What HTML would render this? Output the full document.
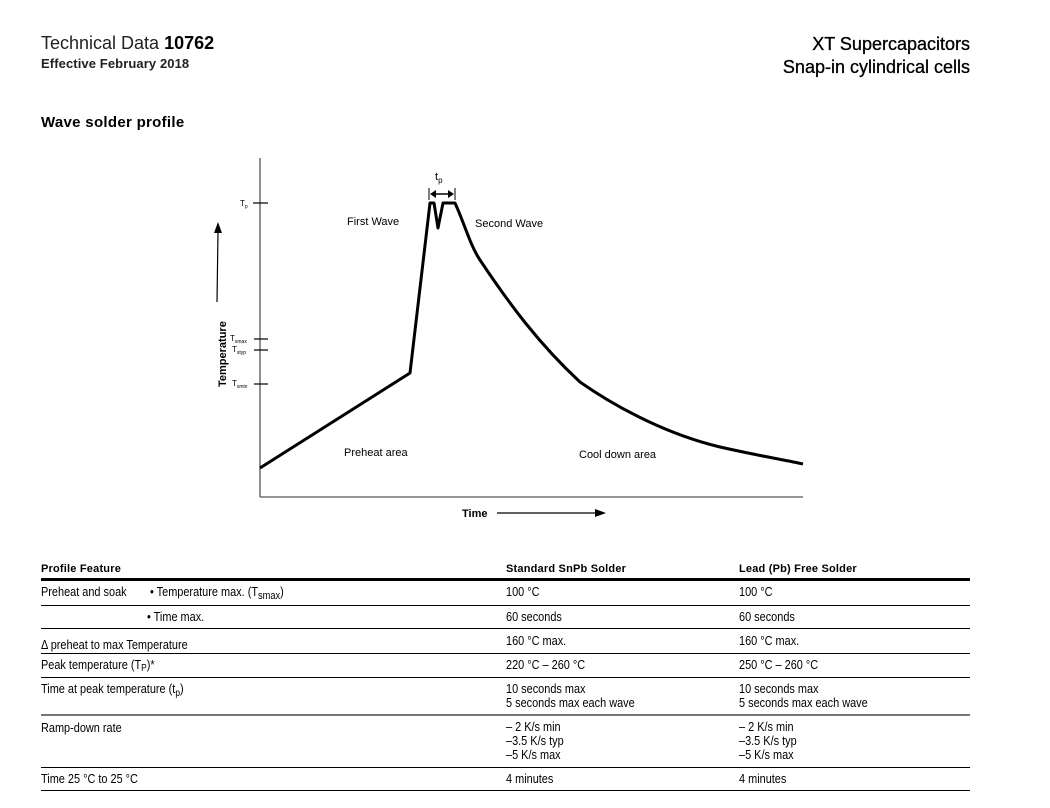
<!DOCTYPE html>
<html><head><meta charset="utf-8"><style>
body{margin:0;background:#fff;width:1050px;height:808px;position:relative;overflow:hidden;font-family:"Liberation Sans",sans-serif;color:#000}
.a{position:absolute;white-space:nowrap}
.n{position:absolute;white-space:nowrap;font-size:13px;transform:scaleX(0.84);transform-origin:0 0;line-height:14px}
.b{position:absolute;white-space:nowrap;font-size:11px;font-weight:bold;letter-spacing:0.2px}
.hl{position:absolute;left:41px;width:929px;height:1px;background:#000}
</style></head><body>
<div class="a" style="left:41px;top:33px;font-size:18px;color:#222">Technical Data <b style="color:#000">10762</b></div>
<div class="a" style="left:41px;top:56px;font-size:13px;font-weight:bold;letter-spacing:0.1px;color:#222">Effective February 2018</div>
<div class="a" style="right:80px;top:34px;font-size:18px;text-align:right;-webkit-text-stroke:0.3px #000">XT Supercapacitors</div>
<div class="a" style="right:80px;top:57px;font-size:18px;text-align:right;-webkit-text-stroke:0.3px #000">Snap-in cylindrical cells</div>
<div class="a" style="left:41px;top:114px;font-size:15px;font-weight:bold;letter-spacing:0.3px">Wave solder profile</div>

<svg class="a" style="left:0;top:0" width="1050" height="550" font-family="Liberation Sans, sans-serif">
<line x1="260" y1="158" x2="260" y2="497" stroke="#555" stroke-width="1.3"/>
<line x1="260" y1="497" x2="803" y2="497" stroke="#555" stroke-width="1.3"/>
<g stroke="#000" stroke-width="1.2">
<line x1="253" y1="203" x2="268" y2="203"/>
<line x1="254" y1="339" x2="268" y2="339"/>
<line x1="254" y1="350" x2="268" y2="350"/>
<line x1="254" y1="384" x2="268" y2="384"/>
</g>
<g font-size="8">
<text x="240" y="206">T<tspan font-size="5" dy="2">p</tspan></text>
<text x="230" y="341">T<tspan font-size="5" dy="2">smax</tspan></text>
<text x="232" y="352">T<tspan font-size="5" dy="2">styp</tspan></text>
<text x="232" y="386">T<tspan font-size="5" dy="2">smin</tspan></text>
</g>
<text transform="translate(226,387) rotate(-90)" font-size="11" font-weight="bold">Temperature</text>
<line x1="217" y1="302" x2="218" y2="232" stroke="#000" stroke-width="1.2"/>
<polygon points="218,222 214,233 222,233" fill="#000"/>
<path d="M260,468 L410,373 L430,203 L434,203 L438,228 L443,203 L455,203 C465,225 470,245 480,260 C510,305 540,345 580,382 C620,410 670,435 720,447 C760,456 785,460 803,464" fill="none" stroke="#000" stroke-width="3" stroke-linejoin="round"/>
<line x1="429" y1="188" x2="429" y2="200" stroke="#000"/>
<line x1="455" y1="188" x2="455" y2="200" stroke="#000"/>
<line x1="432" y1="194" x2="452" y2="194" stroke="#000" stroke-width="1.5"/>
<polygon points="430,194 436,190 436,198" fill="#000"/>
<polygon points="454,194 448,190 448,198" fill="#000"/>
<text x="435" y="180" font-size="11">t<tspan font-size="8" dy="3">p</tspan></text>
<g font-size="11">
<text x="347" y="225">First Wave</text>
<text x="475" y="227">Second Wave</text>
<text x="344" y="456">Preheat area</text>
<text x="579" y="458">Cool down area</text>
<text x="462" y="517" font-weight="bold">Time</text>
</g>
<line x1="497" y1="513" x2="596" y2="513" stroke="#000" stroke-width="1.2"/>
<polygon points="606,513 595,509 595,517" fill="#000"/>
</svg>

<div class="b" style="left:41px;top:563px">Profile Feature</div>
<div class="b" style="left:506px;top:563px">Standard SnPb Solder</div>
<div class="b" style="left:739px;top:563px">Lead (Pb) Free Solder</div>
<div class="hl" style="top:578px;height:3px"></div>
<div class="hl" style="top:605px"></div>
<div class="hl" style="top:628px"></div>
<div class="hl" style="top:653px"></div>
<div class="hl" style="top:677px"></div>
<div class="hl" style="top:714px;height:2px;background:#777"></div>
<div class="hl" style="top:767px"></div>
<div class="hl" style="top:790px"></div>

<div class="n" style="left:41px;top:585px">Preheat and soak</div>
<div class="n" style="left:150px;top:585px">• Temperature max. (T<span style="font-size:11px;position:relative;top:3px">smax</span>)</div>
<div class="n" style="left:147px;top:610px">• Time max.</div>
<div class="n" style="left:41px;top:638px">Δ preheat to max Temperature</div>
<div class="n" style="left:41px;top:658px">Peak temperature (T<span style="font-size:10px;position:relative;top:2px">P</span>)*</div>
<div class="n" style="left:41px;top:682px">Time at peak temperature (t<span style="font-size:10px;position:relative;top:3px">p</span>)</div>
<div class="n" style="left:41px;top:721px">Ramp-down rate</div>
<div class="n" style="left:41px;top:772px">Time 25 °C to 25 °C</div>

<div class="n" style="left:506px;top:585px">100 °C</div>
<div class="n" style="left:506px;top:610px">60 seconds</div>
<div class="n" style="left:506px;top:634px">160 °C max.</div>
<div class="n" style="left:506px;top:658px">220 °C – 260 °C</div>
<div class="n" style="left:506px;top:682px">10 seconds max<br>5 seconds max each wave</div>
<div class="n" style="left:506px;top:720px">– 2 K/s min<br>–3.5 K/s typ<br>–5 K/s max</div>
<div class="n" style="left:506px;top:772px">4 minutes</div>

<div class="n" style="left:739px;top:585px">100 °C</div>
<div class="n" style="left:739px;top:610px">60 seconds</div>
<div class="n" style="left:739px;top:634px">160 °C max.</div>
<div class="n" style="left:739px;top:658px">250 °C – 260 °C</div>
<div class="n" style="left:739px;top:682px">10 seconds max<br>5 seconds max each wave</div>
<div class="n" style="left:739px;top:720px">– 2 K/s min<br>–3.5 K/s typ<br>–5 K/s max</div>
<div class="n" style="left:739px;top:772px">4 minutes</div>
</body></html>
